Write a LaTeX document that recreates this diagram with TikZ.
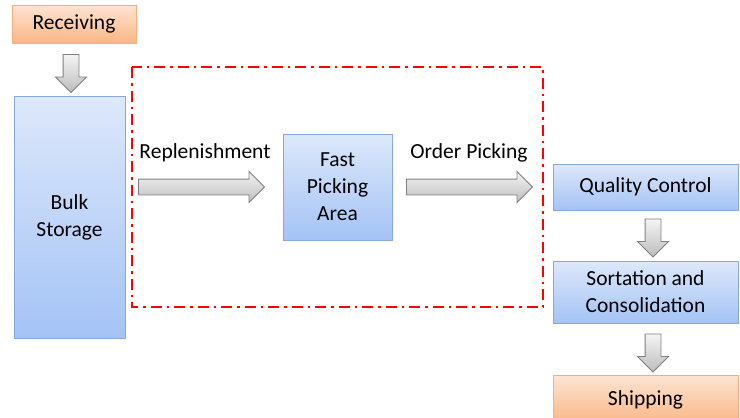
\documentclass[tikz,border=0pt]{standalone}
\usepackage{fontspec}
\setmainfont{Carlito}
\usetikzlibrary{shapes.arrows}
\definecolor{boxtop}{HTML}{DDE8FB}
\definecolor{boxbot}{HTML}{A4C3F5}
\definecolor{boxline}{HTML}{86A9DC}
\definecolor{endtop}{HTML}{FDE5D3}
\definecolor{endbot}{HTML}{FAB584}
\definecolor{endline}{HTML}{F7AE78}
\definecolor{arrtop}{HTML}{F4F4F4}
\definecolor{arrbot}{HTML}{BDBDBD}
\definecolor{arrline}{HTML}{7F7F7F}
\definecolor{zonered}{HTML}{FF0000}
\tikzset{
  x=1pt, y=-1pt,
  every node/.style={font=\fontsize{21.5}{27}\selectfont, align=center, text=black},
  stagebox/.style={rectangle, draw=boxline, line width=1pt, top color=boxtop, bottom color=boxbot, inner sep=2pt},
  endbox/.style={rectangle, draw=endline, line width=1pt, top color=endtop, bottom color=endbot, inner sep=2pt},
  flowarrow/.style={single arrow, draw=arrline, line width=0.9pt, top color=arrtop, bottom color=arrbot,
    single arrow head extend=7.5pt, single arrow tip angle=90},
  downflow/.style={flowarrow, shape border rotate=270, inner xsep=7.5pt, inner ysep=0pt, minimum height=38pt},
  rightflow/.style={flowarrow, inner xsep=0pt, inner ysep=7.5pt, minimum height=126pt},
  zone/.style={draw=zonered, line width=2.4pt, dash pattern=on 11pt off 5pt on 2.5pt off 5pt},
}
\begin{document}
\begin{tikzpicture}
\useasboundingbox (0,0) rectangle (740,418);

% stations of the warehouse flow
\node[endbox, minimum width=124pt, minimum height=38pt] (recv) at (74,24) {Receiving};
\node[stagebox, minimum width=111pt, minimum height=242pt] (bulk) at (69.5,217) {Bulk\\Storage};
\node[stagebox, minimum width=109pt, minimum height=106pt] (fast) at (337.5,187) {Fast\\Picking\\Area};
\node[stagebox, minimum width=185pt, minimum height=46pt] (qc) at (645.5,187) {Quality Control};
\node[stagebox, minimum width=185pt, minimum height=62pt] (sort) at (645.5,292) {Sortation and\\Consolidation};
\node[endbox, minimum width=185pt, minimum height=50pt] (ship) at (645.5,400) {Shipping};

% forward-picking zone
\coordinate (zoneA) at (132,67);
\coordinate (zoneB) at (543,307);
\draw[zone] (zoneA) rectangle (zoneB);

% block arrows between stations
\node[downflow] (a1) at (71,69.5) {};
\node[rightflow] (a2) at (197.5,187) {};
\node[rightflow] (a3) at (465.5,187) {};
\node[downflow] (a4) at (653,234) {};
\node[downflow] (a5) at (653,349) {};

% arrow captions
\node (lrep) at (205,153) {Replenishment};
\node (lord) at (469,153) {Order Picking};
\end{tikzpicture}
\end{document}
